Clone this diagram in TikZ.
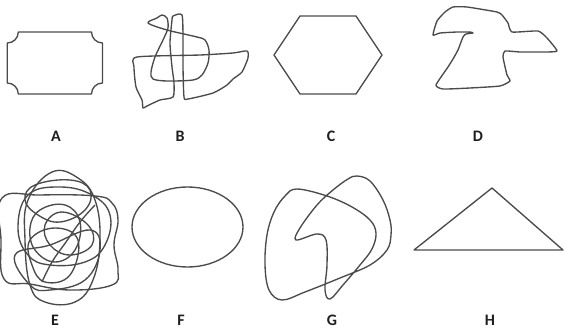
\documentclass[tikz,border=0pt]{standalone}
\usepackage{fontspec}
\setmainfont{Carlito}
\usepackage{xcolor}
\definecolor{pen}{RGB}{75,75,75}
\definecolor{ink}{RGB}{30,30,30}
\tikzset{
    figline/.style={
        draw=pen,
        line width=1.35pt,
        line join=round
    },
    letter/.style={
        font=\bfseries\fontsize{16}{18}\selectfont,
        text=ink,
        inner sep=0pt
    }
}

\begin{document}
\begin{tikzpicture}[x=1pt,y=-1pt]
      \useasboundingbox (0,0) rectangle (566,329);

      % A
      \draw[figline] (18.3,32) -- (91.5,32) .. controls (91.5,38.1) and (96.4,43) .. (102.5,43)
        -- (102.5,83) .. controls (96.4,83) and (91.5,87.9) .. (91.5,94)
        -- (18.3,94) .. controls (18.3,87.9) and (13.4,83) .. (7.3,83)
        -- (7.3,43) .. controls (13.4,43) and (18.3,38.1) .. cycle;

      % B
      \draw[figline] plot[smooth cycle, tension=0.4] coordinates {(173,16) (182,15) (183,40) (183,67) (184,97) (188,99) (213,93) (227,85) (233,79) (242,72) (248,58) (247,51) (233,53) (200,55) (137,57) (134,67) (136,87) (142,100) (143,108) (147,106) (160,100) (173,97) (174,83) (172,67) (170,43) (172,20)};
      \draw[figline] plot[smooth cycle, tension=0.5] coordinates {(148,23) (157,18) (162,15) (167,18) (168,28) (163,40) (155,57) (151,72) (153,79) (167,81) (193,80) (202,75) (208,63) (209,50) (205,40) (197,37) (167,30)};

      % C
      \draw[figline] (300,16) -- (356,16) -- (382,55) -- (356,94) -- (300,94) -- (274,55) -- cycle;

      % D
      \draw[figline] plot[smooth cycle, tension=0.3] coordinates {(433,35) (437,21) (445,12) (453,7) (467,7) (497,12) (502,15) (508,23) (512,32) (538,31) (547,38) (557,51) (543,52) (520,52) (505,51) (503,57) (507,75) (510,81) (500,86) (470,88) (443,89) (436,85) (448,67) (453,59) (458,50) (463,37) (466,34) (473,33) (470,32) (457,32) (440,33)};

      % E
      \draw[figline] plot[smooth cycle, tension=0.7] coordinates {(2,198) (40,195) (95,196) (112,203) (118,220) (114,245) (118,270) (112,285) (70,290) (30,284) (4,279) (1,240)};
      \draw[figline] plot[smooth cycle, tension=0.7] coordinates {(52,172) (78,178) (95,200) (100,240) (93,280) (75,302) (45,302) (30,285) (25,240) (28,200)};
      \draw[figline] plot[smooth cycle, tension=0.7] coordinates {(28,195) (60,187) (92,195) (110,215) (105,245) (85,262) (50,265) (28,255) (18,228)};
      \draw[figline] plot[smooth cycle, tension=0.7] coordinates {(40,210) (65,205) (80,222) (75,250) (55,262) (35,250) (30,228)};
      \draw[figline] plot[smooth cycle, tension=0.7] coordinates {(15,255) (50,245) (90,230) (100,250) (85,280) (50,290) (30,285)};
      \draw[figline] plot[smooth cycle, tension=0.7] coordinates {(45,225) (62,212) (88,225) (92,245) (70,255) (50,245)};
      \draw[figline] plot[smooth cycle, tension=0.7] coordinates {(35,185) (70,180) (90,190) (85,210) (60,222) (38,215) (25,200)};
      \draw[figline] plot[smooth cycle, tension=0.7] coordinates {(30,240) (55,228) (78,240) (70,275) (45,282) (32,265)};
      \draw[figline] plot[smooth, tension=0.7] coordinates {(42,282) (52,262) (66,242) (80,222) (95,205)};

      % F
      \draw[figline] (187.5,227) ellipse [x radius=55.5pt, y radius=40pt];

      % G
      \draw[figline] plot[smooth cycle, tension=0.6] coordinates {(297,189) (327,196) (352,207) (370,220) (376,233) (372,249) (360,265) (343,285) (330,299) (325,290) (327,265) (326,240) (317,234) (296,240) (300,228) (317,205) (333,190) (348,179) (357,176) (370,181) (383,200) (390,220) (391,235) (387,250) (370,265) (340,278) (305,292) (282,300) (269,290) (265,265) (267,235) (274,212) (285,196)};

      % H
      \draw[figline] (414,250) -- (492,188) -- (563,250) -- cycle;

      % letters
      \node[letter] (lblA) at (56,136.5) {A};
      \node[letter] (lblB) at (180,136.5) {B};
      \node[letter] (lblC) at (331,136.5) {C};
      \node[letter] (lblD) at (478,136.5) {D};
      \node[letter] (lblE) at (55,320.5) {E};
      \node[letter] (lblF) at (181,320.5) {F};
      \node[letter] (lblG) at (332,320.5) {G};
      \node[letter] (lblH) at (490,320.5) {H};

    \end{tikzpicture}
\end{document}
